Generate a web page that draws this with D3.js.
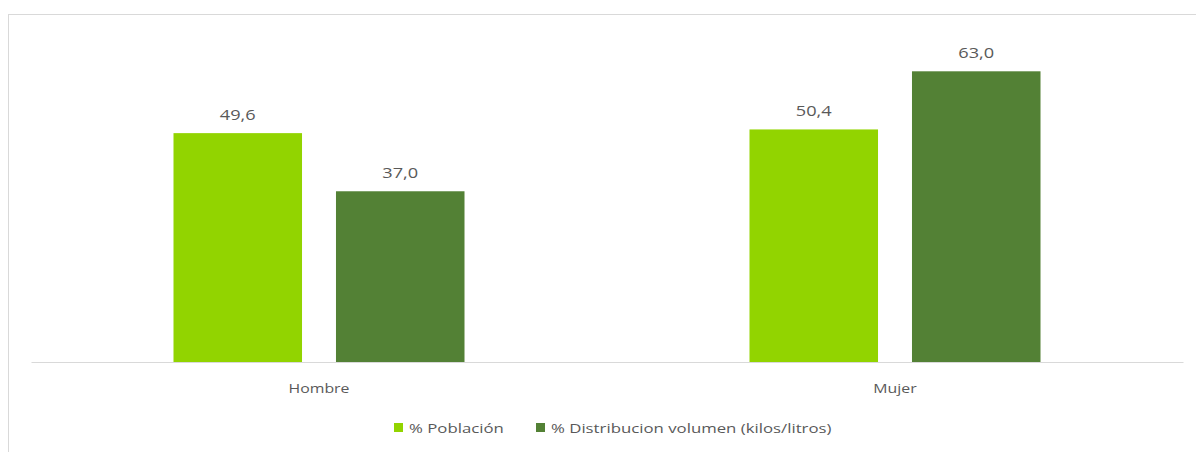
<!DOCTYPE html>
<html><head><meta charset="utf-8">
<script src="https://cdn.jsdelivr.net/npm/d3@7"></script>
<style>body{margin:0;background:#fff}svg{display:block}text{font-family:"Open Sans",sans-serif;fill:#595959}</style>
</head><body>
<script>
const categories = ["Hombre", "Mujer"];
const seriesNames = ["% Población", "% Distribucion volumen (kilos/litros)"];
const poblacion = [49.6, 50.4];
const distribucion = [37.0, 63.0];
const colors = ["#92d400", "#538135"];

const W = 1196, H = 452;
const svg = d3.select("body").append("svg").attr("width", W).attr("height", H);
svg.append("rect").attr("x", 8.5).attr("y", 14.5).attr("width", 1200).attr("height", 500)
  .attr("fill", "none").attr("stroke", "#d9d9d9");

const x0 = d3.scaleBand().domain(categories).range([31, 1183]);
const x1 = d3.scaleBand().domain(seriesNames).range([0, x0.bandwidth()]).paddingInner(0.209).paddingOuter(0.877);
const y = d3.scaleLinear().domain([0, 70]).range([362, 39]);

function stretched(parent, x, yy, txt, size, sx, anchor) {
  return parent.append("text")
    .attr("transform", `translate(${x},${yy}) scale(${sx},1)`)
    .attr("text-anchor", anchor).attr("font-size", size).text(txt);
}

const data = categories.map((c, i) => ({cat: c, vals: [poblacion[i], distribucion[i]]}));
const g = svg.append("g");
data.forEach(d => {
  d.vals.forEach((v, j) => {
    const bx = x0(d.cat) + x1(seriesNames[j]);
    g.append("rect").attr("x", bx).attr("y", y(v)).attr("width", x1.bandwidth())
      .attr("height", y(0) - y(v)).attr("fill", colors[j]);
    stretched(g, bx + x1.bandwidth() / 2, y(v) - 13, v.toFixed(1).replace(".", ","), 14, 1.3, "middle");
  });
});

const xAxis = svg.append("g").attr("transform", "translate(0,362)")
  .call(d3.axisBottom(x0).tickSize(0).tickFormat(""));
xAxis.select(".domain").attr("stroke", "#d9d9d9");
categories.forEach(c => {
  stretched(svg, x0(c) + x0.bandwidth() / 2, 393, c, 13, 1.22, "middle");
});

const legX = [394, 536];
const leg = svg.append("g");
seriesNames.forEach((s, j) => {
  leg.append("rect").attr("x", legX[j]).attr("y", 423).attr("width", 9).attr("height", 9).attr("fill", colors[j]);
  stretched(leg, legX[j] + 15, 433, s, 13, 1.29, "start");
});
</script>
</body></html>
